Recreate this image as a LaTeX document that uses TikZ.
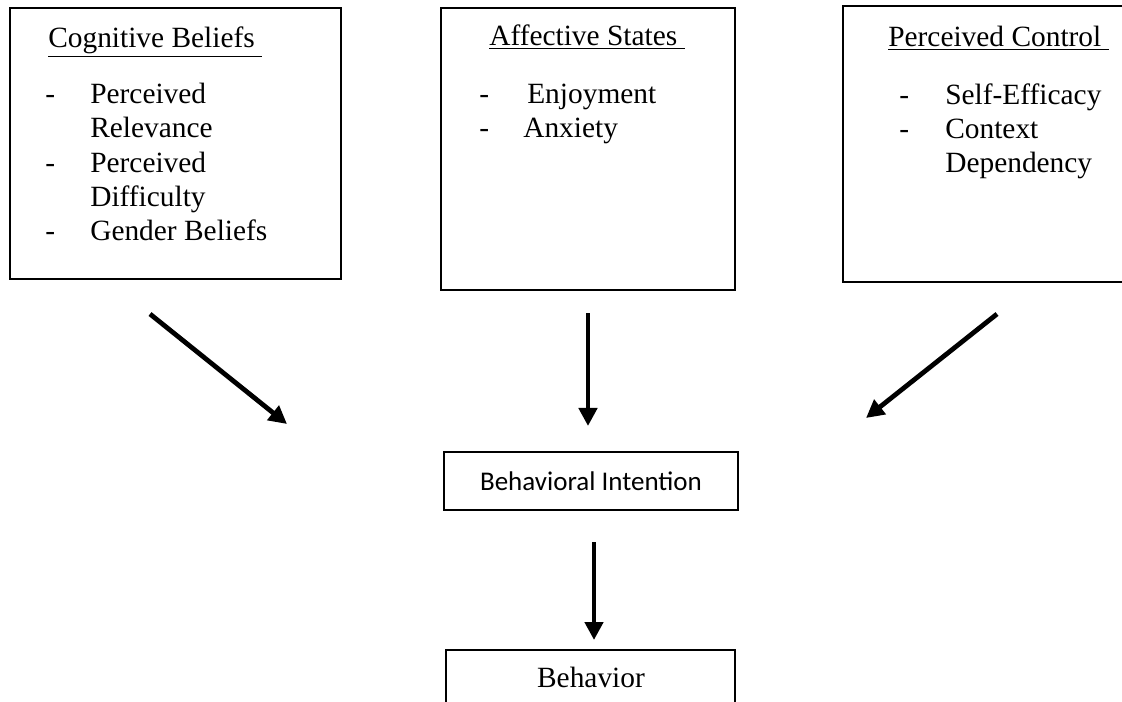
\documentclass[tikz,border=0pt]{standalone}
\usepackage{fontspec}
\setmainfont{Liberation Serif}
\newfontfamily\sansbody{Carlito}
\usetikzlibrary{arrows.meta}

\begin{document}
\begin{tikzpicture}[x=0.025cm, y=-0.025cm,
  panel/.style={draw, line width=1.4pt, inner sep=0},
  txt/.style={anchor=base west, inner sep=0, font=\fontsize{20.9}{24}\selectfont},
  flow/.style={line width=3.4pt, -{Triangle[length=0.45cm, width=0.45cm]}}]
\useasboundingbox (0,0) rectangle (1122,702);
\clip (0,0) rectangle (1122,702);

% the three factor boxes
\node (cogBox) at (175.5,143.5) [panel, minimum width=8.275cm, minimum height=6.775cm] {};
\node (affBox) at (588,149) [panel, minimum width=7.35cm, minimum height=7.05cm] {};
\node (ctlBox) at (989,144) [panel, minimum width=7.3cm, minimum height=6.9cm] {};

\node (cogHead) at (48,48) [txt] {\underline{Cognitive Beliefs\ }};
\node (cogDashA) at (45,104) [txt] {-};
\node (cogItemA) at (90,104) [txt] {Perceived};
\node (cogItemAb) at (90,138) [txt] {Relevance};
\node (cogDashB) at (45,172) [txt] {-};
\node (cogItemB) at (90,172) [txt] {Perceived};
\node (cogItemBb) at (90,206) [txt] {Difficulty};
\node (cogDashC) at (45,240) [txt] {-};
\node (cogItemC) at (90,240) [txt] {Gender Beliefs};

\node (affHead) at (489,46) [txt] {\underline{Affective States\ }};
\node (affDashA) at (479,104) [txt] {-};
\node (affItemA) at (527,104) [txt] {Enjoyment};
\node (affDashB) at (479,138) [txt] {-};
\node (affItemB) at (523,138) [txt] {Anxiety};

\node (ctlHead) at (888,47) [txt] {\underline{Perceived Control\ }};
\node (ctlDashA) at (899,105) [txt] {-};
\node (ctlItemA) at (945,105) [txt] {Self-Efficacy};
\node (ctlDashB) at (899,139) [txt] {-};
\node (ctlItemB) at (945,139) [txt] {Context};
\node (ctlItemBb) at (945,173) [txt] {Dependency};

% intention and behaviour
\node (int) at (591,481) [panel, minimum width=7.35cm, minimum height=1.45cm, font=\sansbody\fontsize{19.2}{22}\selectfont] {Behavioral Intention};
\node (behBox) at (590.5,690) [panel, minimum width=7.225cm, minimum height=2cm] {};
\node (behText) at (591,687) [txt, anchor=base] {Behavior};

% arrows
\coordinate (cogTail) at (150,314);
\coordinate (cogTip) at (287,424);
\coordinate (affTail) at (588,313);
\coordinate (affTip) at (588,426);
\coordinate (ctlTail) at (997,314);
\coordinate (ctlTip) at (866,418);
\coordinate (intTail) at (594,542);
\coordinate (intTip) at (594,640);

\draw[flow] (cogTail) -- (cogTip);
\draw[flow] (affTail) -- (affTip);
\draw[flow] (ctlTail) -- (ctlTip);
\draw[flow] (intTail) -- (intTip);

\end{tikzpicture}
\end{document}
